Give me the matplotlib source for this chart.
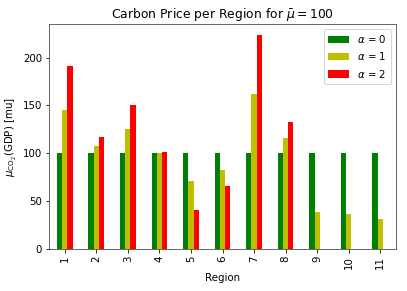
import matplotlib
matplotlib.use("Agg")
import matplotlib.pyplot as plt
import numpy as np

regions = ["1", "2", "3", "4", "5", "6", "7", "8", "9", "10", "11"]
alpha0 = [100, 100, 100, 100, 100, 100, 100, 100, 100, 100, 100]
alpha1 = [145, 108, 125, 100, 71, 83, 162, 116, 39, 37, 31]
alpha2 = [191, 117, 150, 101, 41, 66, 223, 133, 0, 0, 0]
series = [("$\\alpha$ = 0", alpha0, "g"),
          ("$\\alpha$ = 1", alpha1, "y"),
          ("$\\alpha$ = 2", alpha2, "r")]

plt.rcParams["font.size"] = 10.3

fig = plt.figure(figsize=(407 / 72, 291 / 72), dpi=72)
ax = fig.add_axes([49 / 407, 1 - 249 / 291, (396 - 49) / 407, (249 - 24) / 291])

x = np.arange(len(regions))
w = 0.5 / 3
for i, (label, vals, color) in enumerate(series):
    ax.bar(x + (i - 1) * w, vals, width=w, color=color, label=label)

ax.set_xlim(-0.5, len(regions) - 0.5)
ax.set_xticks(x)
ax.set_xticklabels(regions, rotation=90)
ax.set_ylim(0, 235)
ax.set_yticks([0, 50, 100, 150, 200])
ax.set_xlabel("Region")
ax.set_ylabel("$\\mu_{\\mathrm{CO_2}}$(GDP) [mu]")
ax.set_title("Carbon Price per Region for $\\bar{\\mu} = 100$")
ax.legend(loc="upper right")
for s in ax.spines.values():
    s.set_color("#444444")

fig.savefig("out.png", dpi=72)
